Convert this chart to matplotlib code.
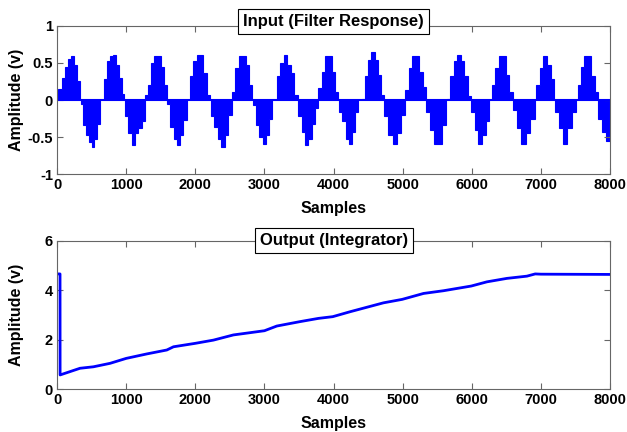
import numpy as np
import matplotlib.pyplot as plt

plt.rcParams['font.family'] = ['Liberation Sans', 'DejaVu Sans']
plt.rcParams['font.weight'] = 'bold'
plt.rcParams['font.size'] = 10.5

# input (filter response): each burst = start sample, end sample, stair levels
n_samples = 8000
burst_start = [20, 340, 685, 985, 1273, 1590, 1925, 2220, 2527, 2830, 3179, 3490, 3782,
               4080, 4409, 4732, 5036, 5340, 5639, 5991, 6290, 6589, 6927, 7200, 7529, 7830]
burst_end = [333, 622, 974, 1273, 1587, 1876, 2214, 2527, 2826, 3116, 3483, 3782, 4071,
             4360, 4732, 5036, 5340, 5620, 5991, 6251, 6589, 6907, 7192, 7505, 7824, 8000]
burst_levels = [
    [0.15, 0.30, 0.45, 0.56, 0.60, 0.47, 0.25],
    [-0.05, -0.34, -0.47, -0.57, -0.63, -0.52, -0.32],
    [0.29, 0.52, 0.60, 0.61, 0.47, 0.30, 0.08],
    [-0.22, -0.45, -0.61, -0.45, -0.38, -0.29],
    [0.07, 0.20, 0.50, 0.59, 0.60, 0.45, 0.20],
    [-0.06, -0.36, -0.52, -0.61, -0.47, -0.27],
    [0.32, 0.52, 0.61, 0.61, 0.36, 0.07],
    [-0.22, -0.36, -0.52, -0.63, -0.47, -0.20],
    [0.11, 0.43, 0.59, 0.59, 0.47, 0.20],
    [-0.07, -0.34, -0.50, -0.60, -0.47, -0.25],
    [0.32, 0.50, 0.61, 0.47, 0.36, 0.07],
    [-0.22, -0.43, -0.61, -0.52, -0.32, -0.11],
    [0.16, 0.38, 0.59, 0.59, 0.38, 0.11],
    [-0.16, -0.29, -0.52, -0.60, -0.43, -0.16],
    [0.02, 0.32, 0.54, 0.65, 0.54, 0.34, 0.07],
    [-0.22, -0.47, -0.60, -0.45, -0.20],
    [0.14, 0.43, 0.59, 0.59, 0.38, 0.18],
    [-0.16, -0.41, -0.60, -0.59, -0.34],
    [0.02, 0.32, 0.52, 0.61, 0.52, 0.32, 0.05],
    [-0.16, -0.41, -0.60, -0.47, -0.29],
    [0.20, 0.43, 0.59, 0.59, 0.34, 0.11],
    [-0.14, -0.38, -0.60, -0.45, -0.25],
    [0.20, 0.43, 0.59, 0.47, 0.29],
    [-0.16, -0.38, -0.59, -0.38, -0.16],
    [0.20, 0.45, 0.59, 0.59, 0.32, 0.11],
    [-0.25, -0.43, -0.56],
]

# output (integrator)
out_samples = [0, 43, 44, 140, 332, 526, 767, 1000, 1297, 1588, 1684, 2000, 2262, 2551,
               3000, 3179, 3517, 3781, 3989, 4240, 4481, 4722, 4993, 5302, 5591, 5992,
               6219, 6508, 6797, 6917, 7000, 8000]
out_values = [4.66, 4.66, 0.57, 0.66, 0.84, 0.90, 1.04, 1.24, 1.42, 1.58, 1.71, 1.85, 1.98,
              2.19, 2.36, 2.55, 2.73, 2.86, 2.93, 3.13, 3.31, 3.49, 3.63, 3.87, 3.98, 4.17,
              4.34, 4.48, 4.57, 4.66, 4.65, 4.64]

x_ticks = [0, 1000, 2000, 3000, 4000, 5000, 6000, 7000, 8000]
top_yticks = [-1, -0.5, 0, 0.5, 1]
top_ylabels = ['-1', '-0.5', '0', '0.5', '1']
bot_yticks = [0, 2, 4, 6]

fig = plt.figure(figsize=(6.27, 4.32), dpi=100)
ax1 = fig.add_axes([0.091, 0.597, 0.882, 0.343])
ax2 = fig.add_axes([0.091, 0.0995, 0.882, 0.343])

for s, e, lv in zip(burst_start, burst_end, burst_levels):
    edges = np.linspace(s, e, len(lv) + 1)
    ax1.stairs(lv, edges, baseline=0, fill=True, facecolor='#0000ff',
               edgecolor='#0000ff', lw=0.8)
ax1.hlines(0, 0, n_samples, color='#0000ff', lw=1.5)

ax2.plot(out_samples, out_values, color='#0000ff', lw=2)

for ax, yt in ((ax1, top_yticks), (ax2, bot_yticks)):
    ax.set_xlim(0, n_samples)
    ax.set_xticks(x_ticks)
    ax.set_yticks(yt)
    ax.tick_params(direction='in', top=True, right=True, length=4, color='0.4',
                   labelsize=10.5, pad=3)
    for sp in ax.spines.values():
        sp.set_color('0.4')
    ax.set_xlabel('Samples', fontweight='bold', fontsize=11.5, labelpad=6)
    ax.set_ylabel('Amplitude (v)', fontweight='bold', fontsize=11.5)
    ax.yaxis.set_label_coords(-0.06, 0.5)

ax1.set_ylim(-1, 1)
ax1.set_yticklabels(top_ylabels)
ax2.set_ylim(0, 6)

box = dict(facecolor='white', edgecolor='black', boxstyle='square,pad=0.3', lw=0.8)
ax1.text(0.5, 1.027, 'Input (Filter Response)', transform=ax1.transAxes, ha='center',
         va='center', fontweight='bold', fontsize=12, bbox=box)
ax2.text(0.5, 1.0, 'Output (Integrator)', transform=ax2.transAxes, ha='center',
         va='center', fontweight='bold', fontsize=12, bbox=box)

plt.savefig('out.png', dpi=100)
